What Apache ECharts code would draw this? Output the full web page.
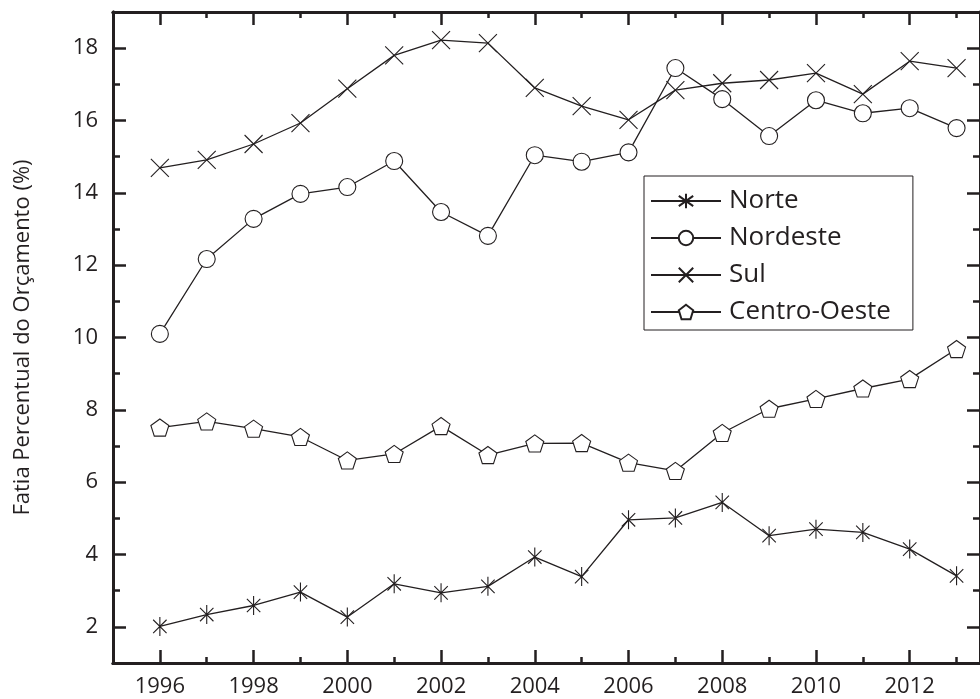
<!DOCTYPE html>
<html>
<head>
<meta charset="utf-8">
<script src="https://cdn.jsdelivr.net/npm/echarts@6/dist/echarts.min.js"></script>
<style>html,body{margin:0;padding:0;background:#fff}#c{width:980px;height:699px}</style>
</head>
<body>
<div id="c"></div>
<script>
const years = [1996,1997,1998,1999,2000,2001,2002,2003,2004,2005,2006,2007,2008,2009,2010,2011,2012,2013];
const norte = [2.01,2.34,2.59,2.96,2.27,3.19,2.94,3.12,3.93,3.39,4.96,5.01,5.44,4.52,4.70,4.61,4.15,3.41];
const nordeste = [10.1,12.17,13.28,13.97,14.16,14.88,13.47,12.81,15.04,14.86,15.12,17.45,16.59,15.57,16.56,16.2,16.34,15.79];
const sul = [14.69,14.91,15.35,15.93,16.88,17.8,18.22,18.14,16.9,16.4,16.02,16.84,17.03,17.12,17.31,16.73,17.64,17.45];
const centroOeste = [7.51,7.68,7.48,7.25,6.60,6.78,7.55,6.75,7.07,7.08,6.54,6.31,7.36,8.03,8.30,8.59,8.85,9.68];
const xMajor = [1996,1998,2000,2002,2004,2006,2008,2010,2012];
const xMinor = [1997,1999,2001,2003,2005,2007,2009,2011,2013];
const yMajor = [2,4,6,8,10,12,14,16,18];
const yMinor = [3,5,7,9,11,13,15,17];
const seriesNames = ['Norte','Nordeste','Sul','Centro-Oeste'];
const yTitle = 'Fatia Percentual do Orçamento (%)';

const FONT = 'Open Sans';
const C = '#231f20';
const symbols = [
  'path://M10,0L10,20M2.93,2.93L17.07,17.07M2.93,17.07L17.07,2.93',
  'circle',
  'path://M0,0L20,20M0,20L20,0',
  'path://M10,0L19.51,6.91L15.88,18.09L4.12,18.09L0.49,6.91Z'
];
const sizes = [19, 17, 18, 18];
const dataSets = [norte, nordeste, sul, centroOeste];

function xAx(pos, vals, len, labels) {
  return {
    type: 'value', position: pos, min: 1995, max: 2013.5,
    axisLine: {show: true, onZero: false, lineStyle: {color: C, width: 3}},
    axisTick: {show: true, inside: true, length: len, customValues: vals, lineStyle: {color: C, width: 2.5}},
    axisLabel: labels ? {show: true, customValues: vals, margin: 13, color: C, fontFamily: FONT, fontSize: 22,
      formatter: v => String(v)} : {show: false},
    splitLine: {show: false}
  };
}
function yAx(pos, vals, len, labels, name) {
  const a = {
    type: 'value', position: pos, min: 1, max: 19,
    axisLine: {show: true, onZero: false, lineStyle: {color: C, width: 3}},
    axisTick: {show: true, inside: true, length: len, customValues: vals, lineStyle: {color: C, width: 2.5}},
    axisLabel: labels ? {show: true, customValues: vals, margin: 15, color: C, fontFamily: FONT, fontSize: 22,
      formatter: v => String(v)} : {show: false},
    splitLine: {show: false}
  };
  if (name) {
    a.name = name; a.nameLocation = 'middle'; a.nameGap = 79;
    a.nameTextStyle = {color: C, fontFamily: FONT, fontSize: 22};
  }
  return a;
}

const chart = echarts.init(document.getElementById('c'), null, {renderer: 'canvas'});
chart.setOption({
  animation: false,
  backgroundColor: '#fff',
  grid: {left: 113, right: -11, top: 12, bottom: 36, containLabel: false},
  xAxis: [
    xAx('bottom', xMajor, 13, true),
    xAx('bottom', xMinor, 6, false),
    xAx('top', xMajor, 13, false),
    xAx('top', xMinor, 6, false)
  ],
  yAxis: [
    yAx('left', yMajor, 13, true, yTitle),
    yAx('left', yMinor, 7, false),
    yAx('right', yMajor, 13, false),
    yAx('right', yMinor, 7, false)
  ],
  legend: {
    orient: 'vertical', left: 644, top: 176,
    itemWidth: 70, itemHeight: 18, itemGap: 11,
    padding: [12, 22, 5, 6],
    borderColor: C, borderWidth: 1,
    textStyle: {color: C, fontFamily: FONT, fontSize: 26, padding: [0, 0, 0, 3]},
    data: seriesNames
  },
  series: seriesNames.map((n, i) => ({
    name: n, type: 'line', xAxisIndex: 0, yAxisIndex: 0,
    data: years.map((y, k) => [y, dataSets[i][k]]),
    symbol: symbols[i], symbolSize: sizes[i], symbolKeepAspect: true,
    showAllSymbol: true,
    lineStyle: {color: C, width: 1.3},
    itemStyle: {color: '#fff', borderColor: C, borderWidth: 1.1},
    emphasis: {disabled: true},
    z: 3
  }))
});
</script>
</body>
</html>
